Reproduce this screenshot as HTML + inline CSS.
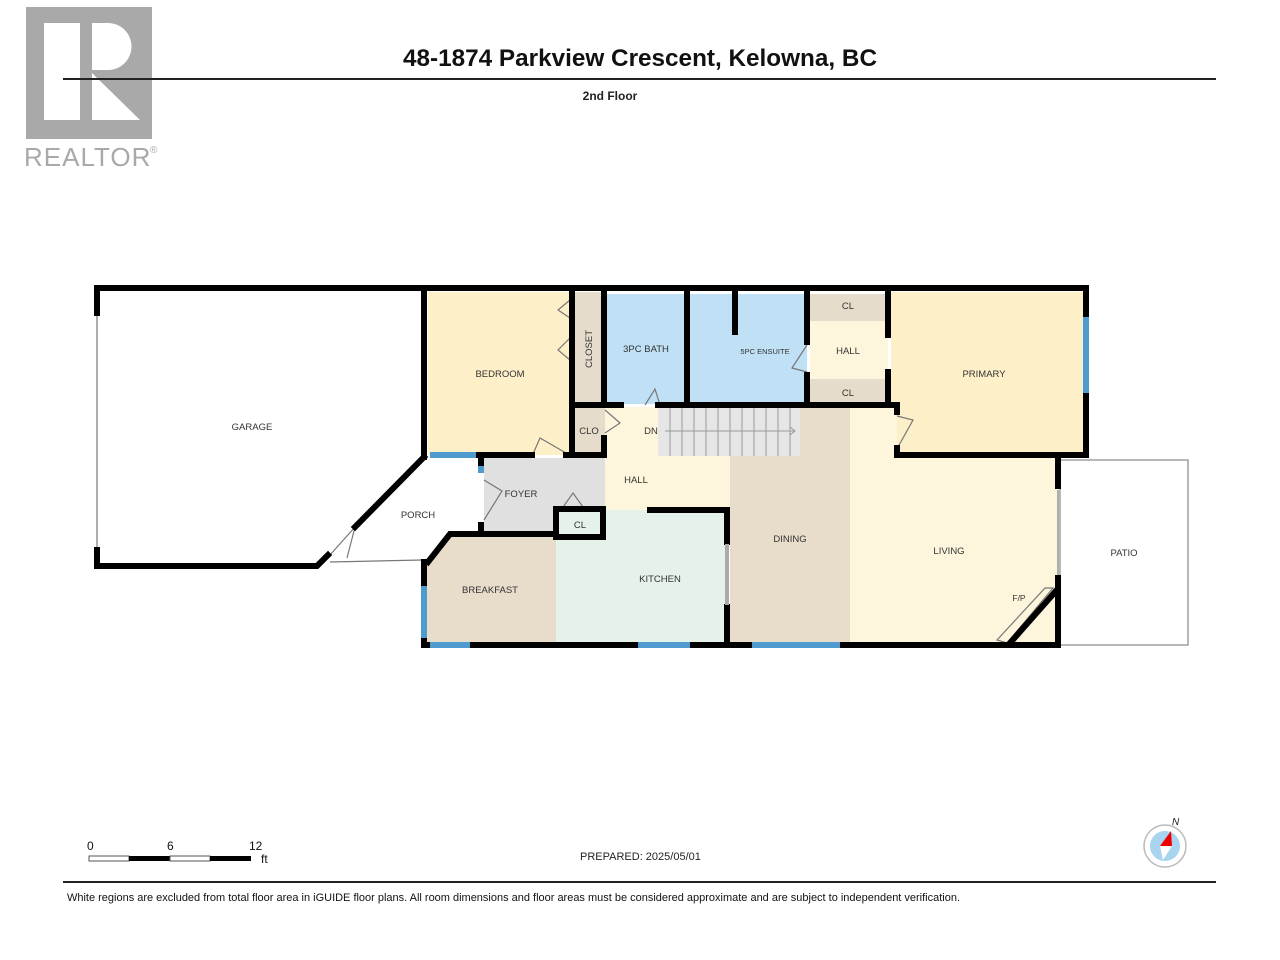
<!DOCTYPE html>
<html><head><meta charset="utf-8"><style>
html,body{margin:0;padding:0;background:#fff;}
svg{display:block;font-family:"Liberation Sans",Arial,sans-serif;}
</style></head><body>
<svg width="1280" height="960" viewBox="0 0 1280 960" xmlns="http://www.w3.org/2000/svg">
<rect x="26" y="7" width="126" height="132" fill="#a9a9a9"/>
<rect x="44" y="23" width="36" height="97" fill="#fff"/>
<path d="M92 23 H108 A22 22 0 0 1 108 70 H92 Z" fill="#fff"/>
<polygon points="92,73 92,120 140,120" fill="#fff"/>
<text x="24" y="166" font-size="26" fill="#a9a9a9" letter-spacing="1">REALTOR</text>
<text x="150" y="153" font-size="10" fill="#a9a9a9">®</text>
<line x1="63" y1="79" x2="1216" y2="79" stroke="#222" stroke-width="2"/>
<text x="640" y="66" font-size="24" font-weight="bold" text-anchor="middle" textLength="474" lengthAdjust="spacingAndGlyphs" fill="#111">48-1874 Parkview Crescent, Kelowna, BC</text>
<text x="610" y="100" font-size="12" font-weight="bold" text-anchor="middle" fill="#222">2nd Floor</text>

<rect x="428" y="292" width="144" height="163" fill="#fdf0c8"/>
<rect x="575" y="292" width="29" height="112" fill="#e6dccc"/>
<rect x="607" y="294" width="80" height="110" fill="#bfe0f5"/>
<rect x="690" y="294" width="117" height="110" fill="#bfe0f5"/>
<rect x="810" y="294" width="78" height="27" fill="#e6dccc"/>
<rect x="810" y="321" width="78" height="58" fill="#fdf6dd"/>
<rect x="810" y="379" width="78" height="25" fill="#e6dccc"/>
<rect x="891" y="292" width="193" height="162" fill="#fdf0c8"/>
<rect x="575" y="407" width="30" height="48" fill="#e6dccc"/>
<rect x="605" y="407" width="125" height="103" fill="#fdf6dd"/>
<rect x="730" y="407" width="120" height="237" fill="#e8dccb"/>
<polygon points="850,407 897,407 897,458 1057,458 1057,644 850,644" fill="#fdf6dd"/>
<rect x="484" y="458" width="121" height="75" fill="#e0e0e0"/>
<rect x="560" y="510" width="42" height="25" fill="#e6dccc"/>
<polygon points="426,562 448,536 556,536 556,644 426,644" fill="#e8dccb"/>
<rect x="556" y="510" width="170" height="134" fill="#e5f2ea"/>
<rect x="658" y="408" width="142" height="48" fill="#e6e6e6"/>
<g stroke="#999" stroke-width="1">
<line x1="670" y1="408" x2="670" y2="456"/><line x1="682" y1="408" x2="682" y2="456"/><line x1="694" y1="408" x2="694" y2="456"/><line x1="706" y1="408" x2="706" y2="456"/><line x1="718" y1="408" x2="718" y2="456"/><line x1="730" y1="408" x2="730" y2="456"/><line x1="742" y1="408" x2="742" y2="456"/><line x1="754" y1="408" x2="754" y2="456"/><line x1="766" y1="408" x2="766" y2="456"/><line x1="778" y1="408" x2="778" y2="456"/><line x1="790" y1="408" x2="790" y2="456"/>
<line x1="665" y1="431" x2="795" y2="431"/><polyline points="790,427 795,431 790,435" fill="none"/>
</g>
<rect x="1060" y="460" width="128" height="185" fill="none" stroke="#888" stroke-width="1.2"/>
<g stroke="#777" stroke-width="1.2" fill="none">
<line x1="97" y1="315" x2="97" y2="548"/>
<line x1="330" y1="562" x2="422" y2="560"/>
<line x1="1058" y1="490" x2="1058" y2="575"/>
<polyline points="330,555 355,527 347,558"/>
<polyline points="605,410 620,423 605,433"/>
<polyline points="645,405 655,389 660,405"/>
<polyline points="570,300 558,310 570,318"/>
<polyline points="570,338 558,350 570,360"/>
<polyline points="533,454 540,438 566,453"/>
<polyline points="484,480 502,491 484,520"/>
<polyline points="561,510 573,493 583,507"/>
<polyline points="807,345 792,368 807,372"/>
<polyline points="897,416 913,420 898,447"/>
<polygon points="997,640 1045,588 1053,588 1007,643"/>
</g>
<g stroke="#000" stroke-width="6" fill="none" stroke-linecap="square">
<line x1="97" y1="288" x2="1086" y2="288"/>
<line x1="97" y1="288" x2="97" y2="313"/>
<line x1="97" y1="550" x2="97" y2="566"/>
<polyline points="97,566 317,566 328,555"/>
<line x1="355" y1="527" x2="424" y2="457"/>
<line x1="424" y1="288" x2="424" y2="457"/>
<line x1="478" y1="455" x2="532" y2="455"/>
<line x1="566" y1="455" x2="604" y2="455"/>
<line x1="572" y1="288" x2="572" y2="455"/>
<line x1="604" y1="288" x2="604" y2="404"/>
<line x1="604" y1="438" x2="604" y2="455"/>
<line x1="687" y1="288" x2="687" y2="404"/>
<line x1="735" y1="288" x2="735" y2="332"/>
<line x1="807" y1="288" x2="807" y2="342"/>
<line x1="807" y1="375" x2="807" y2="404"/>
<line x1="888" y1="288" x2="888" y2="335"/>
<line x1="888" y1="372" x2="888" y2="404"/>
<line x1="572" y1="405" x2="621" y2="405"/>
<line x1="658" y1="405" x2="897" y2="405"/>
<line x1="897" y1="405" x2="897" y2="412"/>
<line x1="897" y1="448" x2="897" y2="455"/>
<line x1="897" y1="455" x2="1086" y2="455"/>
<line x1="1086" y1="288" x2="1086" y2="315"/>
<line x1="1086" y1="395" x2="1086" y2="455"/>
<line x1="1058" y1="458" x2="1058" y2="486"/>
<line x1="1058" y1="578" x2="1058" y2="645"/>
<line x1="1010" y1="643" x2="1055" y2="592"/>
<line x1="481" y1="458" x2="481" y2="463"/>
<line x1="481" y1="525" x2="481" y2="533"/>
<polyline points="428,562 450,534 556,534"/>
<polyline points="556,537 556,509 603,509 603,537 556,537"/>
<polyline points="650,510 727,510 727,542"/>
<line x1="727" y1="607" x2="727" y2="645"/>
<line x1="424" y1="562" x2="424" y2="584"/>
<line x1="424" y1="640" x2="424" y2="645"/>
<line x1="424" y1="645" x2="1058" y2="645"/>
</g>
<g stroke="#4f9bd0" stroke-width="6">
<line x1="430" y1="455" x2="476" y2="455"/>
<line x1="481" y1="466" x2="481" y2="473"/>
<line x1="1086" y1="317" x2="1086" y2="393"/>
<line x1="424" y1="586" x2="424" y2="638"/>
<line x1="430" y1="645" x2="470" y2="645"/>
<line x1="638" y1="645" x2="690" y2="645"/>
<line x1="752" y1="645" x2="840" y2="645"/>
</g>
<line x1="727" y1="544" x2="727" y2="605" stroke="#aaa" stroke-width="4"/>
<g font-size="9.5" fill="#333" text-anchor="middle">
<text x="252" y="430">GARAGE</text>
<text x="500" y="377">BEDROOM</text>
<text x="592" y="349" transform="rotate(-90 592 349)">CLOSET</text>
<text x="646" y="352">3PC BATH</text>
<text x="765" y="354" font-size="7.5">5PC ENSUITE</text>
<text x="848" y="309">CL</text>
<text x="848" y="354">HALL</text>
<text x="848" y="396">CL</text>
<text x="984" y="377">PRIMARY</text>
<text x="589" y="434">CLO</text>
<text x="651" y="434">DN</text>
<text x="636" y="483">HALL</text>
<text x="521" y="497">FOYER</text>
<text x="418" y="518">PORCH</text>
<text x="580" y="528">CL</text>
<text x="490" y="593">BREAKFAST</text>
<text x="660" y="582">KITCHEN</text>
<text x="790" y="542">DINING</text>
<text x="949" y="554">LIVING</text>
<text x="1124" y="556">PATIO</text>
<text x="1019" y="601" font-size="8.5">F/P</text>
</g>
<g font-size="12" fill="#111">
<text x="87" y="850">0</text><text x="167" y="850">6</text><text x="249" y="850">12</text><text x="261" y="863">ft</text>
</g>
<rect x="89" y="856" width="40" height="5" fill="#fff" stroke="#555" stroke-width="1"/>
<rect x="129" y="856" width="41" height="5" fill="#000"/>
<rect x="170" y="856" width="40" height="5" fill="#fff" stroke="#555" stroke-width="1"/>
<rect x="210" y="856" width="41" height="5" fill="#000"/>
<text x="580" y="860" font-size="11" fill="#222">PREPARED: 2025/05/01</text>
<circle cx="1165" cy="846" r="21" fill="#fff" stroke="#bbb" stroke-width="1.5"/>
<circle cx="1165" cy="846" r="15" fill="#a8d4ef"/>
<polygon points="1171,831 1160,846 1172,846" fill="#e00"/>
<polygon points="1160,846 1172,846 1163,860" fill="#fff"/>
<text x="1172" y="825" font-size="10" font-style="italic" fill="#222">N</text>
<line x1="63" y1="882" x2="1216" y2="882" stroke="#222" stroke-width="2"/>
<text x="67" y="901" font-size="11" fill="#111" textLength="893" lengthAdjust="spacingAndGlyphs">White regions are excluded from total floor area in iGUIDE floor plans. All room dimensions and floor areas must be considered approximate and are subject to independent verification.</text>
</svg>
</body></html>
